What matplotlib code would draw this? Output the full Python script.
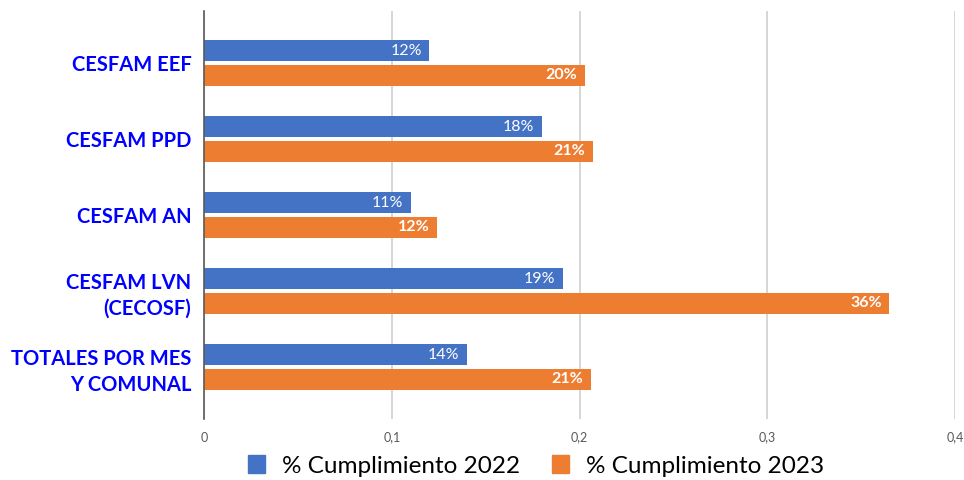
import numpy as np
import matplotlib.pyplot as plt
from matplotlib.patches import Patch

# data
categories = ["CESFAM EEF", "CESFAM PPD", "CESFAM AN", "CESFAM LVN\n(CECOSF)",
              "TOTALES POR MES\nY COMUNAL"]
cumpl_2022 = [0.12, 0.18, 0.11, 0.191, 0.14]
cumpl_2023 = [0.203, 0.207, 0.124, 0.365, 0.206]
series_names = ["% Cumplimiento 2022", "% Cumplimiento 2023"]
xticks = [0, 0.1, 0.2, 0.3, 0.4]
xtick_labels = ["0", "0,1", "0,2", "0,3", "0,4"]

blue = "#4472C4"
orange = "#ED7D31"

plt.rcParams["font.family"] = ["Lato", "DejaVu Sans"]

fig = plt.figure(figsize=(9.64, 4.80), dpi=100)
ax = fig.add_axes([204 / 964, 1 - 419 / 480, (955 - 204) / 964, (419 - 11) / 480])

y = np.arange(len(categories))
h = 0.276
off = 0.164

bars1 = ax.barh(y - off, cumpl_2022, height=h, color=blue, zorder=3)
bars2 = ax.barh(y + off, cumpl_2023, height=h, color=orange, zorder=3)

for b, v in zip(bars1, cumpl_2022):
    ax.text(v - 0.004, b.get_y() + b.get_height() / 2, f"{v * 100:.0f}%",
            ha="right", va="center", color="white", fontsize=11.5, zorder=4)
for b, v in zip(bars2, cumpl_2023):
    ax.text(v - 0.004, b.get_y() + b.get_height() / 2, f"{v * 100:.0f}%",
            ha="right", va="center", color="white", fontsize=11.5,
            fontweight="bold", zorder=4)

ax.set_xlim(0, 0.4)
ax.set_ylim(4.684, -0.684)
ax.set_xticks(xticks)
ax.set_xticklabels(xtick_labels, fontsize=9, color="#595959")
ax.set_yticks(y)
ax.set_yticklabels(categories, fontsize=14.5, fontweight="bold", color="#0000ff",
                   linespacing=1.35)
ax.tick_params(axis="both", length=0)
ax.tick_params(axis="y", pad=9)
ax.tick_params(axis="x", pad=9)

ax.xaxis.grid(True, color="#d0d0d0", linewidth=1.2, zorder=0)
for s in ["top", "right", "bottom"]:
    ax.spines[s].set_visible(False)
ax.spines["left"].set_color("#595959")
ax.spines["left"].set_linewidth(1.2)
ax.spines["left"].set_zorder(5)

handles = [Patch(color=blue), Patch(color=orange)]
fig.legend(handles, series_names, loc="center", bbox_to_anchor=(536 / 964, 1 - 466 / 480),
           ncol=2, frameon=False, fontsize=17.5, handlelength=0.7, handleheight=0.7,
           columnspacing=1.3, handletextpad=0.7)

fig.savefig("out.png", dpi=100)
